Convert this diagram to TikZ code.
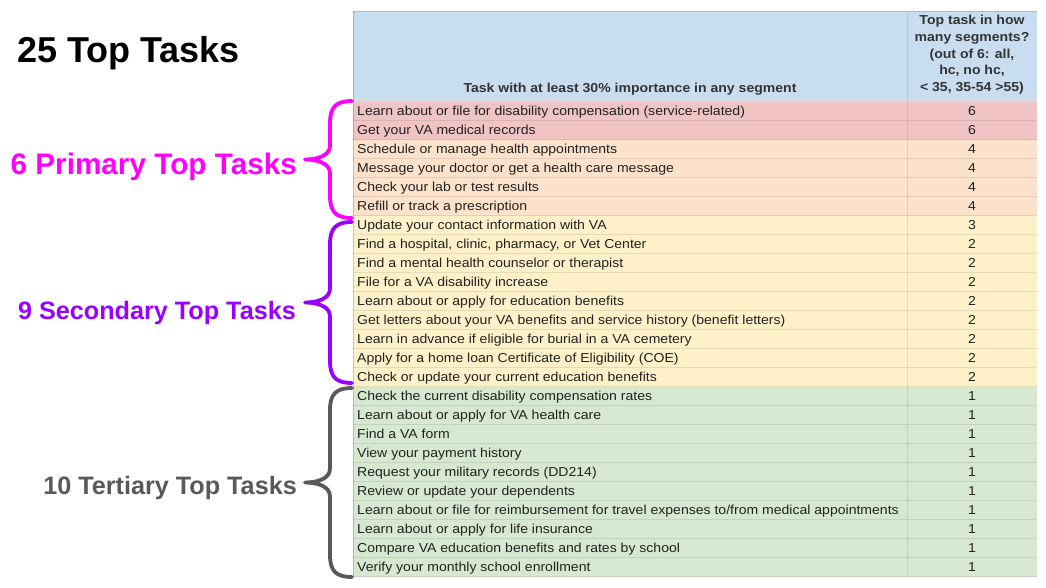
\documentclass[tikz,border=0pt]{standalone}
\usepackage{fontspec}
\setmainfont{Liberation Sans}
\newfontfamily\cellfont[FakeStretch=1.08]{Liberation Sans}
\definecolor{hdrblue}{HTML}{C9DDF0}
\definecolor{sepband}{HTML}{D3DAE4}
\definecolor{rowred}{HTML}{F0C4C4}
\definecolor{roworange}{HTML}{FCE2CB}
\definecolor{rowyellow}{HTML}{FEF1CA}
\definecolor{rowgreen}{HTML}{D7E8D0}
\definecolor{txtdark}{HTML}{222222}
\definecolor{hdrtxt}{HTML}{333333}
\definecolor{magentac}{HTML}{FF00FF}
\definecolor{purplec}{HTML}{9900FF}
\definecolor{grayc}{HTML}{595959}
\newcommand\tabrow[4]{%
  \fill[#2] (353,{101.5+19*(#1-1)}) rectangle (1037,{120.5+19*(#1-1)});
  \draw[gridline] (353,{120.5+19*(#1-1)}) -- (1037,{120.5+19*(#1-1)});
  \node[cell] (t#1) at (357,{115.5+19*(#1-1)}) {#3};
  \node[numcell] (n#1) at (972,{115.5+19*(#1-1)}) {#4};
}
\newcommand\curlyb[3]{%
  \pgfmathsetmacro\bm{(#1+#2)/2}%
  \draw[bracestyle,#3] (352,#1) .. controls (336,#1) and (330,{#1+6}) .. (330,{#1+22})
    -- (330,{\bm-14}) .. controls (330,{\bm-4}) and (318,\bm) .. (305,\bm)
    .. controls (318,\bm) and (330,{\bm+4}) .. (330,{\bm+14})
    -- (330,{#2-22}) .. controls (330,{#2-6}) and (336,#2) .. (352,#2);
}
\begin{document}
\begin{tikzpicture}[x=1pt,y=-1pt,
  cell/.style={anchor=base west,inner sep=0pt,font=\cellfont\fontsize{13}{14}\selectfont,text=txtdark},
  numcell/.style={anchor=base,inner sep=0pt,font=\cellfont\fontsize{13}{14}\selectfont,text=txtdark},
  gridline/.style={draw=black,draw opacity=0.09,line width=1pt},
  bracestyle/.style={line width=3.8pt,line cap=round,line join=round},
  bigtxt/.style={inner sep=0pt,anchor=east}]
\useasboundingbox (0,0) rectangle (1046,587);
\fill[white] (0,0) rectangle (1046,587);
% title
\node[anchor=base west,inner sep=0pt,font=\bfseries\fontsize{36}{38}\selectfont] (title) at (17,62) {25 Top Tasks};
% header
\fill[hdrblue] (353,11) rectangle (1037,97);
\fill[sepband] (353,97) rectangle (1037,101.5);
\draw[draw=black,draw opacity=0.15,line width=1pt] (353,11) -- (1037,11);
\node[anchor=base,inner sep=0pt,font=\cellfont\bfseries\fontsize{13}{14}\selectfont,text=hdrtxt] (h1) at (630,92) {Task with at least 30\% importance in any segment};
\node[anchor=south,inner sep=0pt,align=center,font=\cellfont\bfseries\fontsize{13}{16.7}\selectfont,text=hdrtxt] (h2) at (972,94.5) {Top task in how\\many segments?\\(out of 6: all,\\hc, no hc,\\< 35, 35-54 >55)};
% rows
\tabrow{1}{rowred}{Learn about or file for disability compensation (service-related)}{6}
\tabrow{2}{rowred}{Get your VA medical records}{6}
\tabrow{3}{roworange}{Schedule or manage health appointments}{4}
\tabrow{4}{roworange}{Message your doctor or get a health care message}{4}
\tabrow{5}{roworange}{Check your lab or test results}{4}
\tabrow{6}{roworange}{Refill or track a prescription}{4}
\tabrow{7}{rowyellow}{Update your contact information with VA}{3}
\tabrow{8}{rowyellow}{Find a hospital, clinic, pharmacy, or Vet Center}{2}
\tabrow{9}{rowyellow}{Find a mental health counselor or therapist}{2}
\tabrow{10}{rowyellow}{File for a VA disability increase}{2}
\tabrow{11}{rowyellow}{Learn about or apply for education benefits}{2}
\tabrow{12}{rowyellow}{Get letters about your VA benefits and service history (benefit letters)}{2}
\tabrow{13}{rowyellow}{Learn in advance if eligible for burial in a VA cemetery}{2}
\tabrow{14}{rowyellow}{Apply for a home loan Certificate of Eligibility (COE)}{2}
\tabrow{15}{rowyellow}{Check or update your current education benefits}{2}
\tabrow{16}{rowgreen}{Check the current disability compensation rates}{1}
\tabrow{17}{rowgreen}{Learn about or apply for VA health care}{1}
\tabrow{18}{rowgreen}{Find a VA form}{1}
\tabrow{19}{rowgreen}{View your payment history}{1}
\tabrow{20}{rowgreen}{Request your military records (DD214)}{1}
\tabrow{21}{rowgreen}{Review or update your dependents}{1}
\tabrow{22}{rowgreen}{Learn about or file for reimbursement for travel expenses to/from medical appointments}{1}
\tabrow{23}{rowgreen}{Learn about or apply for life insurance}{1}
\tabrow{24}{rowgreen}{Compare VA education benefits and rates by school}{1}
\tabrow{25}{rowgreen}{Verify your monthly school enrollment}{1}
% vertical grid lines
\draw[gridline] (907,11) -- (907,576.5);
\draw[draw=black,draw opacity=0.18,line width=1pt] (353,11) -- (353,576.5);
% group labels
\node[bigtxt,text=magentac,font=\bfseries\fontsize{29.7}{31}\selectfont] (lp) at (297,166.5) {6 Primary Top Tasks};
\node[bigtxt,text=purplec,font=\bfseries\fontsize{25.2}{27}\selectfont] (ls) at (296,312.5) {9 Secondary Top Tasks};
\node[bigtxt,text=grayc,font=\bfseries\fontsize{25.2}{27}\selectfont] (lt) at (297,488) {10 Tertiary Top Tasks};
% braces
\curlyb{101}{218}{magentac}
\curlyb{222}{383}{purplec}
\curlyb{388}{577}{grayc}
\end{tikzpicture}
\end{document}
